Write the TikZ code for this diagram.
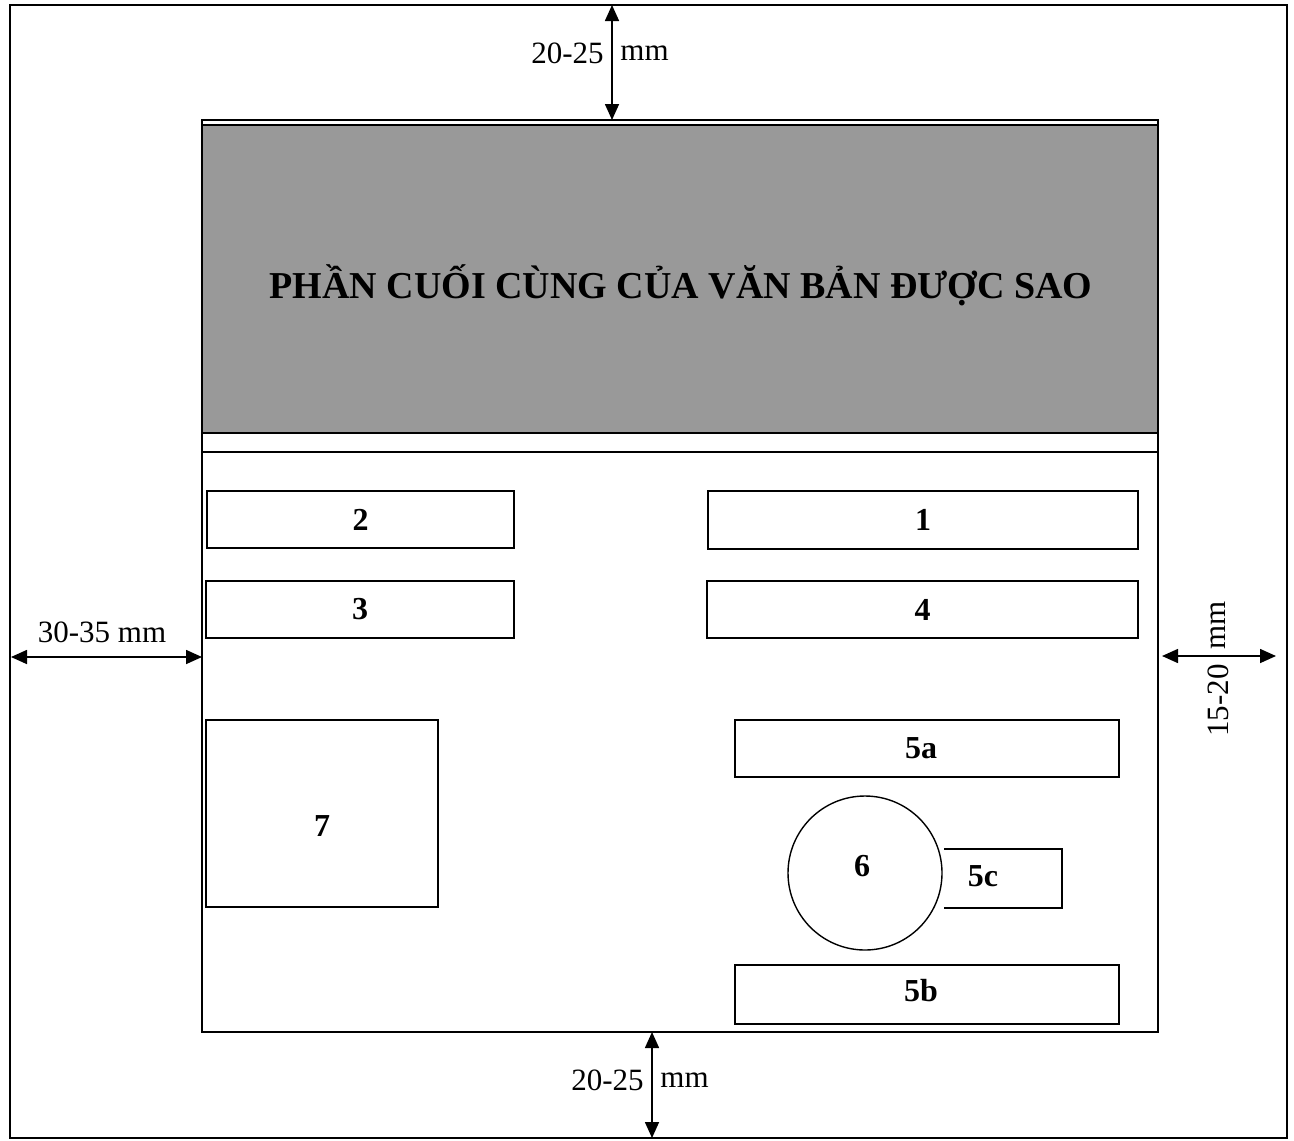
\documentclass[tikz,border=0pt]{standalone}
\usepackage{fontspec}
\setmainfont{Liberation Serif}
\usetikzlibrary{arrows.meta}
\tikzset{
  frame/.style={draw=black, line width=1pt},
  page/.style={draw=black, line width=0.8pt},
  numtext/.style={font=\fontsize{16}{18}\selectfont\bfseries},
  slot/.style={draw=black, line width=0.8pt, rectangle, inner sep=0pt, numtext},
  seal/.style={draw=black, line width=0.7pt, circle, inner sep=0pt, minimum size=77pt, numtext},
  dimarrow/.style={line width=0.8pt, {Triangle[width=7pt,length=8pt]}-{Triangle[width=7pt,length=8pt]}},
  dimlabel/.style={inner sep=1pt, font=\fontsize{15.5}{17}\selectfont},
  titletext/.style={font=\fontsize{19}{22}\selectfont\bfseries}
}
\begin{document}
\begin{tikzpicture}[x=0.5pt,y=-0.5pt]
\useasboundingbox (0,0) rectangle (1294,1140);
% outer page frame
\draw[frame] (10,5) rectangle (1287,1138);
% shaded band
\fill[gray!80] (202,125) rectangle (1158,433);
% inner area
\draw[page] (202,120) rectangle (1158,1032);
\draw[page] (202,125) -- (1158,125);
\draw[page] (202,433) -- (1158,433);
\draw[line width=1.4pt] (202,452) -- (1158,452);
\node[titletext] (title) at (681,285) {PHẦN CUỐI CÙNG CỦA VĂN BẢN ĐƯỢC SAO};
% slots
\node[slot, minimum width=153.5pt, minimum height=28.5pt] (b2) at (360.5,519.5) {2};
\node[slot, minimum width=215pt, minimum height=29pt] (b1) at (923,520) {1};
\node[slot, minimum width=154pt, minimum height=28.5pt] (b3) at (360,609.5) {3};
\node[slot, minimum width=215.5pt, minimum height=28.5pt] (b4) at (922.5,609.5) {4};
\node[slot, minimum width=116pt, minimum height=93.5pt] (b7) at (322,813.5) {};
\node[numtext] (t7) at (322,826) {7};
\node[slot, minimum width=192pt, minimum height=28.5pt] (b5a) at (927,748.5) {};
\node[numtext] (t5a) at (921,748) {5a};
\node[slot, minimum width=192pt, minimum height=29.5pt] (b5b) at (927,994.5) {};
\node[numtext] (t5b) at (921,991) {5b};
\node[seal] (c6) at (865,873) {};
\node[numtext] (t6) at (862,866) {6};
\node[slot, draw=none, minimum width=58pt, minimum height=28.5pt] (b5c) at (1003,878.5) {};
\draw[line width=0.8pt] (b5c.north west) -- (b5c.north east) -- (b5c.south east) -- (b5c.south west);
\node[numtext] (t5c) at (983,876) {5c};
% dimension points
\coordinate (tA) at (612,5);
\coordinate (tB) at (612,120);
\coordinate (bA) at (652,1032);
\coordinate (bB) at (652,1138);
\coordinate (lA) at (11,657);
\coordinate (lB) at (202,657);
\coordinate (rA) at (1162,656);
\coordinate (rB) at (1276,656);
\draw[dimarrow] (tA) -- (tB);
\draw[dimarrow] (bA) -- (bB);
\draw[dimarrow] (lA) -- (lB);
\draw[dimarrow] (rA) -- (rB);
% labels
\node[dimlabel, anchor=east] (tl1) at (606,53) {20-25};
\node[dimlabel, anchor=west] (tl2) at (618,53) {mm};
\node[dimlabel, anchor=east] (bl1) at (646,1080) {20-25};
\node[dimlabel, anchor=west] (bl2) at (658,1080) {mm};
\node[dimlabel] (ll) at (102,632) {30-35 mm};
\node[dimlabel, rotate=90, anchor=east] (rl1) at (1218,662) {15-20};
\node[dimlabel, rotate=90, anchor=west] (rl2) at (1218,652) {mm};
\end{tikzpicture}
\end{document}
